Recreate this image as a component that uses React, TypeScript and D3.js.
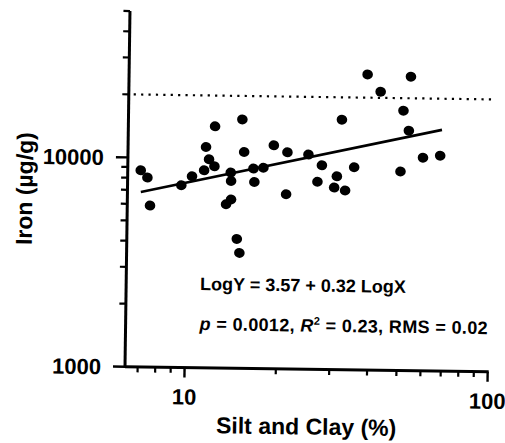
import React from 'react';
import * as d3 from 'd3';

// Silt and clay (%) and iron (µg/g) per sample
const siltClay = [12.29, 15.11, 11.5, 15.37, 19.24, 21.35, 25.05, 7.02, 7.39, 7.56, 9.57, 10.37, 11.36, 11.78, 12.28, 13.91, 13.96, 16.52, 17.82, 16.66, 21.23, 13.47, 13.98, 14.67, 14.98, 38.94, 54.13, 43.07, 51.32, 32.19, 53.58, 27.78, 35.5, 31.16, 26.9, 30.56, 33.22, 50.49, 59.82, 68.15];
const iron = [14250, 15450, 11340, 10800, 11670, 10830, 10600, 8690, 8030, 5905, 7418, 8200, 8775, 9910, 9184, 8595, 7834, 9010, 9105, 7777, 6828, 6061, 6389, 4148, 3558, 25820, 25370, 21400, 17430, 15640, 14005, 9441, 9283, 8383, 7870, 7405, 7183, 8927, 10430, 10690];

// regression line end points
const fitX = [7.04, 68.9];
const fitY = [6850, 14200];

// dotted reference level
const refX = [6.6, 101];
const refY = [20000, 20000];

const xDomain = [6.36, 100];
const yDomain = [1000, 50000];
const xMajorTicks = [10, 100];
const xMinorTicks = [7, 8, 9, 20, 30, 40, 50, 60, 70, 80, 90];
const yMajorTicks = [1000, 10000];
const yMinorTicks = [2000, 3000, 4000, 5000, 6000, 7000, 8000, 9000, 20000, 30000, 40000, 50000];

const xTitle = 'Silt and Clay (%)';
const yTitle = 'Iron (µg/g)';
const eq1 = 'LogY = 3.57 + 0.32 LogX';

const W = 505;
const H = 443;
const ML = 125;
const MT = 11;
const PW = 362.7;
const PH = 355.7;
const FONT = "'Liberation Sans', Arial, Helvetica, sans-serif";

export default function App() {
  const x = d3.scaleLog().domain(xDomain).range([0, PW]);
  const y = d3.scaleLog().domain(yDomain).range([PH, 0]);
  const pts = siltClay.map((v, i) => [v, iron[i]] as [number, number]);
  const line = d3.line<[number, number]>().x(d => x(d[0])).y(d => y(d[1]));
  const fit = fitX.map((v, i) => [v, fitY[i]] as [number, number]);
  const ref = refX.map((v, i) => [v, refY[i]] as [number, number]);

  return (
    <svg width={W} height={H} style={{ position: 'absolute', left: 0, top: 0, background: '#fff' }}
      fontFamily={FONT}>
      <rect width={W} height={H} fill="#fff" />
      <g transform={`rotate(0.8 ${ML} ${MT + PH})`}>
        <g transform={`translate(${ML},${MT})`}>
          {/* reference dotted line */}
          <path d={line(ref) || ''} fill="none" stroke="#000" strokeWidth={2.2}
            strokeDasharray="2.2 5.2" />
          {/* regression line */}
          <path d={line(fit) || ''} fill="none" stroke="#000" strokeWidth={2.6} />
          {/* points */}
          {pts.map((d, i) => (
            <ellipse key={i} cx={x(d[0])} cy={y(d[1])} rx={5.3} ry={5} fill="#000" />
          ))}
          {/* y axis */}
          <line x1={0} x2={0} y1={0} y2={PH} stroke="#000" strokeWidth={3} />
          {yMajorTicks.map(t => (
            <g key={'ym' + t} transform={`translate(0,${y(t)})`}>
              <line x1={-12} x2={0} stroke="#000" strokeWidth={2.4} />
              <text x={-24} dy="0.36em" textAnchor="end" fontSize={22} fontWeight="bold">{t}</text>
            </g>
          ))}
          {yMinorTicks.map(t => (
            <line key={'yn' + t} x1={-6.5} x2={0} y1={y(t)} y2={y(t)} stroke="#000" strokeWidth={2.2} />
          ))}
          {/* x axis */}
          <line x1={0} x2={PW + 1} y1={PH} y2={PH} stroke="#000" strokeWidth={3} />
          {xMajorTicks.map(t => (
            <g key={'xm' + t} transform={`translate(${x(t)},${PH})`}>
              <line y1={0} y2={10} stroke="#000" strokeWidth={2.4} />
              <text y={37} textAnchor="middle" fontSize={22} fontWeight="bold">{t}</text>
            </g>
          ))}
          {xMinorTicks.map(t => (
            <line key={'xn' + t} x1={x(t)} x2={x(t)} y1={PH} y2={PH + 5.5} stroke="#000" strokeWidth={2.2} />
          ))}
        </g>
        {/* titles */}
        <text x={307} y={432} textAnchor="middle" fontSize={23} fontWeight="bold">{xTitle}</text>
        <text transform="translate(30,190) rotate(-90)" textAnchor="middle" fontSize={23} fontWeight="bold">{yTitle}</text>
        {/* equation */}
        <text x={199} y={289} fontSize={18} fontWeight="bold">{eq1}</text>
        <text x={199} y={329} fontSize={18} fontWeight="bold" letterSpacing={0.35}>
          <tspan fontStyle="italic">p</tspan>
          <tspan> = 0.0012, </tspan>
          <tspan fontStyle="italic">R</tspan>
          <tspan dy={-7} fontSize={11}>2</tspan>
          <tspan dy={7}> = 0.23, RMS = 0.02</tspan>
        </text>
      </g>
    </svg>
  );
}
